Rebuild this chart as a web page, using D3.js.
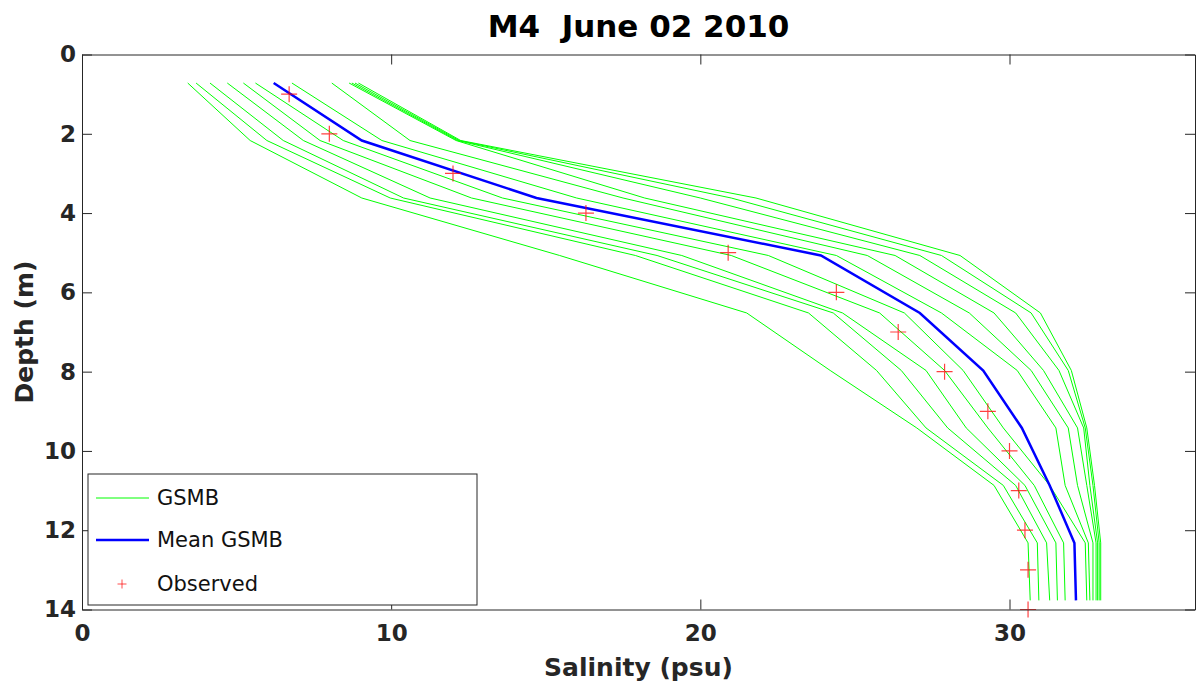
<!DOCTYPE html>
<html>
<head>
<meta charset="utf-8">
<script src="https://cdn.jsdelivr.net/npm/d3@7"></script>
<style>
  body { margin: 0; background: #fff; }
  svg { display: block; font-family: "DejaVu Sans", Verdana, sans-serif; }
</style>
</head>
<body>
<script>
// depth levels (m) of the model layers
const depthLevels = [0.72, 2.17, 3.62, 5.07, 6.52, 7.97, 9.42, 10.87, 12.32, 13.77];

// ensemble members (salinity, psu) at each depth level
const gsmbRuns = [
  [3.42, 5.44, 9.05, 15.45, 21.5, 24.2, 27.0, 29.5, 30.6, 30.67],
  [3.69, 5.98, 9.97, 17.9, 23.5, 25.7, 27.3, 29.8, 30.9, 30.95],
  [4.14, 6.51, 10.4, 18.6, 24.3, 26.5, 28.0, 30.2, 31.2, 31.3],
  [4.70, 7.16, 11.26, 19.4, 24.6, 27.3, 28.6, 30.5, 31.5, 31.55],
  [5.22, 7.70, 12.6, 21.0, 25.8, 27.9, 29.3, 30.8, 31.75, 31.8],
  [5.61, 8.45, 13.6, 22.2, 26.6, 28.5, 29.8, 31.3, 32.45, 32.5],
  [6.79, 9.70, 16.0, 24.4, 27.8, 30.25, 31.5, 31.8, 32.55, 32.6],
  [8.08, 10.61, 17.5, 25.4, 28.7, 30.7, 31.9, 32.2, 32.7, 32.7],
  [8.64, 12.10, 18.2, 26.3, 29.5, 31.1, 32.2, 32.5, 32.8, 32.8],
  [8.73, 12.15, 20.0, 27.1, 30.2, 31.6, 32.4, 32.6, 32.85, 32.85],
  [8.83, 12.20, 21.0, 27.8, 30.7, 31.9, 32.45, 32.7, 32.9, 32.9],
  [8.94, 12.25, 21.8, 28.4, 31.0, 32.0, 32.5, 32.75, 32.95, 32.95]
];

// ensemble mean
const meanGsmb = [6.2, 9.05, 14.7, 23.9, 27.1, 29.15, 30.4, 31.3, 32.1, 32.15];

// observations
const obsDepth = [1, 2, 3, 4, 5, 6, 7, 8, 9, 10, 11, 12, 13, 14];
const obsSalinity = [6.7, 8.0, 12.0, 16.3, 20.9, 24.4, 26.4, 27.9, 29.3, 30.0, 30.3, 30.5, 30.6, 30.6];

const xTicks = [0, 10, 20, 30];
const yTicks = [0, 2, 4, 6, 8, 10, 12, 14];
const legendItems = ["GSMB", "Mean GSMB", "Observed"];

const W = 1201, H = 681;
const plot = {left: 82, right: 1195, top: 54.5, bottom: 609.5};
const axisColor = "#262626";

const svg = d3.select("body").append("svg")
    .attr("width", W)
    .attr("height", H);

const x = d3.scaleLinear().domain([0, 36]).range([plot.left, plot.right]);
const y = d3.scaleLinear().domain([0, 14]).range([plot.top, plot.bottom]);

// profiles
const line = d3.line()
    .x(d => x(d[0]))
    .y(d => y(d[1]));

svg.append("g")
  .selectAll("path")
  .data(gsmbRuns)
  .join("path")
    .attr("d", run => line(run.map((s, i) => [s, depthLevels[i]])))
    .attr("fill", "none")
    .attr("stroke", "#00ff00")
    .attr("stroke-width", 1);

svg.append("path")
    .attr("d", line(meanGsmb.map((s, i) => [s, depthLevels[i]])))
    .attr("fill", "none")
    .attr("stroke", "#0000ff")
    .attr("stroke-width", 2.5);

// observed markers (+)
svg.append("g")
  .selectAll("path")
  .data(obsSalinity.map((s, i) => [s, obsDepth[i]]))
  .join("path")
    .attr("d", d => {
      const px = x(d[0]), py = y(d[1]);
      return `M${px - 8},${py}h16M${px},${py - 8}v16`;
    })
    .attr("stroke", "#ff0000")
    .attr("stroke-opacity", 0.75)
    .attr("stroke-width", 1.2);

// axes
function styleAxis(g) {
  g.select(".domain").attr("stroke", axisColor);
  g.selectAll(".tick line").attr("stroke", axisColor);
  g.selectAll(".tick text")
    .attr("fill", "#262626")
    .style("font-size", "23px")
    .style("font-weight", "bold")
    .style("font-family", "'DejaVu Sans', Verdana, sans-serif");
}

svg.append("g")
    .attr("transform", `translate(0,${plot.bottom})`)
    .call(d3.axisBottom(x).tickValues(xTicks).tickSizeInner(-10).tickSizeOuter(0).tickPadding(15))
    .call(styleAxis);

svg.append("g")
    .attr("transform", `translate(0,${plot.top})`)
    .call(d3.axisTop(x).tickValues(xTicks).tickFormat("").tickSizeInner(-10).tickSizeOuter(0))
    .call(styleAxis);

svg.append("g")
    .attr("transform", `translate(${plot.left},0)`)
    .call(d3.axisLeft(y).tickValues(yTicks).tickSizeInner(-10).tickSizeOuter(0).tickPadding(6))
    .call(styleAxis);

svg.append("g")
    .attr("transform", `translate(${plot.right},0)`)
    .call(d3.axisRight(y).tickValues(yTicks).tickFormat("").tickSizeInner(-10).tickSizeOuter(0))
    .call(styleAxis);

// title and axis labels
svg.append("text")
    .attr("x", (plot.left + plot.right) / 2)
    .attr("y", 37)
    .attr("text-anchor", "middle")
    .style("white-space", "pre")
    .style("font-size", "31px")
    .style("font-weight", "bold")
    .text("M4  June 02 2010");

svg.append("text")
    .attr("x", (plot.left + plot.right) / 2)
    .attr("y", 676)
    .attr("text-anchor", "middle")
    .attr("fill", "#262626")
    .style("font-size", "25px")
    .style("font-weight", "bold")
    .text("Salinity (psu)");

svg.append("text")
    .attr("transform", `translate(33,${(plot.top + plot.bottom) / 2}) rotate(-90)`)
    .attr("text-anchor", "middle")
    .attr("fill", "#262626")
    .style("font-size", "25px")
    .style("font-weight", "bold")
    .text("Depth (m)");

// legend
const legend = svg.append("g").attr("transform", "translate(88,474)");
legend.append("rect")
    .attr("width", 389)
    .attr("height", 131)
    .attr("fill", "#fff")
    .attr("stroke", axisColor)
    .attr("stroke-width", 1);

const rowY = [24, 66, 110];
legendItems.forEach((name, i) => {
  const row = legend.append("g").attr("transform", `translate(0,${rowY[i]})`);
  if (i === 0) {
    row.append("line").attr("x1", 8).attr("x2", 61)
        .attr("stroke", "#00ff00").attr("stroke-width", 1);
  } else if (i === 1) {
    row.append("line").attr("x1", 8).attr("x2", 61)
        .attr("stroke", "#0000ff").attr("stroke-width", 2.5);
  } else {
    row.append("path").attr("d", "M29.5,0h9M34,-4.5v9")
        .attr("stroke", "#ff0000").attr("stroke-opacity", 0.7).attr("stroke-width", 1);
  }
  row.append("text")
      .attr("x", 69)
      .attr("dy", "0.35em")
      .style("font-size", "21px")
      .attr("fill", "#111")
      .text(name);
});
</script>
</body>
</html>
